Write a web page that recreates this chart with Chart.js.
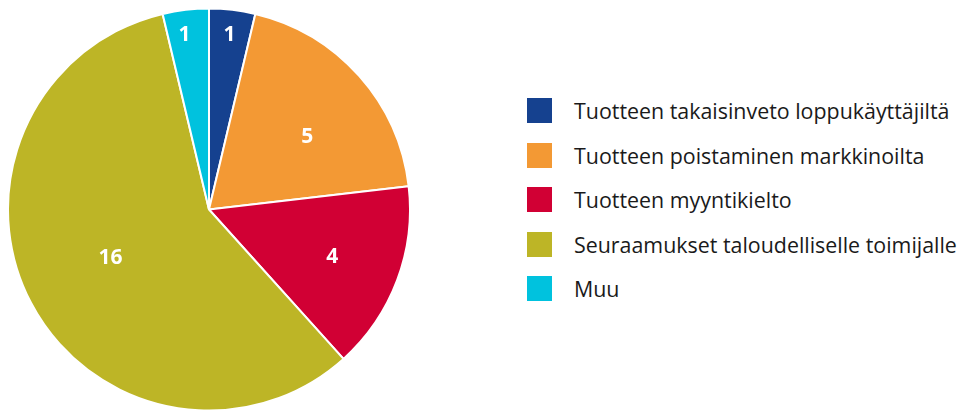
<!DOCTYPE html>
<html>
<head>
<meta charset="utf-8">
<script src="https://cdn.jsdelivr.net/npm/chart.js@4/dist/chart.umd.min.js"></script>
<style>
    html, body { margin: 0; padding: 0; background: #fff; }
    body { width: 962px; height: 412px; position: relative; overflow: hidden; font-family: "Open Sans", "Noto Sans", sans-serif; }
    #wrap { position: absolute; left: 0; top: 0; width: 418px; height: 412px; }
    #legend { position: absolute; left: 527px; top: 98px; margin: 0; padding: 0; list-style: none; }
    #legend li { display: flex; align-items: center; height: 25px; margin-bottom: 19.5px; font-size: 21.4px; color: #1a1a1a; white-space: nowrap; }
    #legend span.box { display: inline-block; width: 25px; height: 25px; margin-right: 22px; }
</style>
</head>
<body>
<div id="wrap"><canvas id="pieChart"></canvas></div>
<ul id="legend"></ul>
<script>
const categories = [
    'Tuotteen takaisinveto loppukäyttäjiltä',
    'Tuotteen poistaminen markkinoilta',
    'Tuotteen myyntikielto',
    'Seuraamukset taloudelliselle toimijalle',
    'Muu'
];
// numbers printed on the slices
const counts = [1, 5, 4, 16, 1];
// slice sizes as drawn in the picture (not exactly proportional to the counts)
const sliceSizes = [1, 5.25, 4.1, 15.65, 1];
const colors = ['#15418f', '#f39934', '#d10034', '#bdb526', '#00c2de'];

// labels inside slices: position as fraction of slice angle and radius
const sliceLabels = {
    id: 'sliceLabels',
    afterDatasetsDraw(chart, args, opts) {
        const ctx = chart.ctx;
        const meta = chart.getDatasetMeta(0);
        ctx.save();
        ctx.fillStyle = '#fff';
        ctx.font = 'bold 21px "Open Sans", "Noto Sans", sans-serif';
        ctx.textAlign = 'center';
        ctx.textBaseline = 'middle';
        meta.data.forEach(function (arc, i) {
            const p = arc.getProps(['x', 'y', 'startAngle', 'endAngle', 'outerRadius'], true);
            const a = p.startAngle + (p.endAngle - p.startAngle) * opts.angleFrac[i];
            const r = p.outerRadius * opts.radiusFrac[i];
            ctx.fillText(String(counts[i]), p.x + Math.cos(a) * r, p.y + Math.sin(a) * r + 1);
        });
        ctx.restore();
    }
};

const chart = new Chart(document.getElementById('pieChart').getContext('2d'), {
    type: 'pie',
    data: {
        labels: categories,
        datasets: [{
            data: sliceSizes,
            backgroundColor: colors,
            borderColor: '#fff',
            borderWidth: 2
        }]
    },
    options: {
        responsive: true,
        maintainAspectRatio: false,
        animation: false,
        layout: { padding: { left: 7, top: 7, right: 7, bottom: 0 } },
        plugins: {
            legend: { display: false },
            tooltip: { enabled: false },
            sliceLabels: {
                angleFrac: [0.5, 0.57, 0.5, 0.51, 0.4],
                radiusFrac: [0.88, 0.61, 0.655, 0.543, 0.88]
            }
        }
    },
    plugins: [sliceLabels]
});

const legend = document.getElementById('legend');
categories.forEach(function (name, i) {
    const li = document.createElement('li');
    const box = document.createElement('span');
    box.className = 'box';
    box.style.background = colors[i];
    li.appendChild(box);
    li.appendChild(document.createTextNode(name));
    legend.appendChild(li);
});
</script>
</body>
</html>
